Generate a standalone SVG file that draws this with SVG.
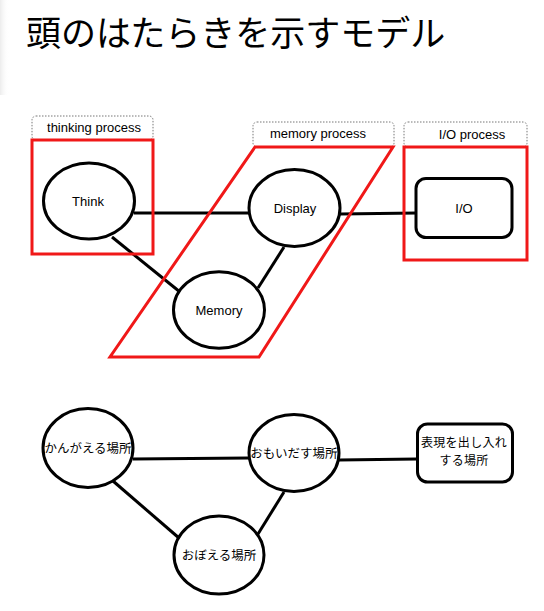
<svg xmlns="http://www.w3.org/2000/svg" width="544" height="611" viewBox="0 0 544 611">
<style>
.title{font-family:"Noto Sans CJK JP","Noto Sans",sans-serif;font-size:35px;fill:#000}
.t{font-family:"Liberation Sans","Noto Sans CJK JP",sans-serif;font-size:13px;fill:#000;text-anchor:middle}
.j{font-family:"Noto Sans CJK JP",sans-serif;font-size:12.5px;fill:#000;text-anchor:middle}
.js{font-family:"Noto Sans CJK JP",sans-serif;font-size:12px;fill:#000;text-anchor:middle;letter-spacing:0.3px}
.node{fill:#fff;stroke:#000;stroke-width:3}
.edge{stroke:#000;stroke-width:3;fill:none}
.grp{fill:none;stroke:#f01818;stroke-width:3}
.lbl{fill:#fff;stroke:#777;stroke-width:1;stroke-dasharray:1.5 1.5}
</style>
<defs>
<linearGradient id="sh" x1="0" y1="0" x2="1" y2="0">
<stop offset="0" stop-color="#ececec"/>
<stop offset="1" stop-color="#fff" stop-opacity="0"/>
</linearGradient>
</defs>
<rect x="0" y="0" width="544" height="611" fill="#fff"/>
<rect x="0" y="0" width="9" height="95" fill="url(#sh)"/>
<text class="title" x="26" y="46">頭のはたらきを示すモデル</text>

<g id="connectors">
<line class="edge" x1="134" y1="213" x2="249" y2="213"/>
<line class="edge" x1="340" y1="214" x2="417" y2="213"/>
<line class="edge" x1="112" y1="237" x2="180" y2="292"/>
<line class="edge" x1="284" y1="247" x2="258" y2="288"/>
<line class="edge" x1="133" y1="459" x2="249" y2="458"/>
<line class="edge" x1="339" y1="460" x2="417" y2="459"/>
<line class="edge" x1="113" y1="481" x2="179" y2="538"/>
<line class="edge" x1="284" y1="492" x2="258" y2="534"/>
</g>

<g id="thinking-process">
<rect class="lbl" x="32" y="116" width="121" height="24" rx="4"/>
<text class="t" x="94" y="132">thinking process</text>
<rect class="grp" x="32" y="140" width="121" height="114"/>
</g>
<g id="memory-process">
<rect class="lbl" x="253" y="122" width="141" height="25" rx="4"/>
<text class="t" x="318" y="138">memory process</text>
<polygon class="grp" points="255,147 393,147 259,357 110,357"/>
</g>
<g id="io-process">
<rect class="lbl" x="404" y="122" width="123" height="25" rx="4"/>
<text class="t" x="472" y="139">I/O process</text>
<rect class="grp" x="404" y="147" width="123" height="113"/>
</g>

<g id="think">
<ellipse class="node" cx="89" cy="201" rx="45.5" ry="38"/>
<text class="t" x="88" y="206">Think</text>
</g>
<g id="display">
<ellipse class="node" cx="294.5" cy="208" rx="45.5" ry="38.5"/>
<text class="t" x="295" y="213">Display</text>
</g>
<g id="memory">
<ellipse class="node" cx="219" cy="310" rx="45.5" ry="38.3"/>
<text class="t" x="219" y="315">Memory</text>
</g>
<g id="io">
<rect class="node" x="416" y="178.5" width="96" height="59" rx="10"/>
<text class="t" x="464" y="213">I/O</text>
</g>

<g id="kangaeru">
<ellipse class="node" cx="88" cy="448" rx="45" ry="39.5"/>
<text class="j" x="88" y="452.5">かんがえる場所</text>
</g>
<g id="omoidasu">
<ellipse class="node" cx="294" cy="453" rx="45" ry="38.5"/>
<text class="j" x="294" y="457.5">おもいだす場所</text>
</g>
<g id="oboeru">
<ellipse class="node" cx="219" cy="555" rx="45" ry="39"/>
<text class="j" x="219" y="560">おぼえる場所</text>
</g>
<g id="hyougen">
<rect class="node" x="417.5" y="424" width="95" height="58" rx="10"/>
<text class="js" x="464" y="447">表現を出し入れ</text>
<text class="js" x="464" y="464.5">する場所</text>
</g>
</svg>
